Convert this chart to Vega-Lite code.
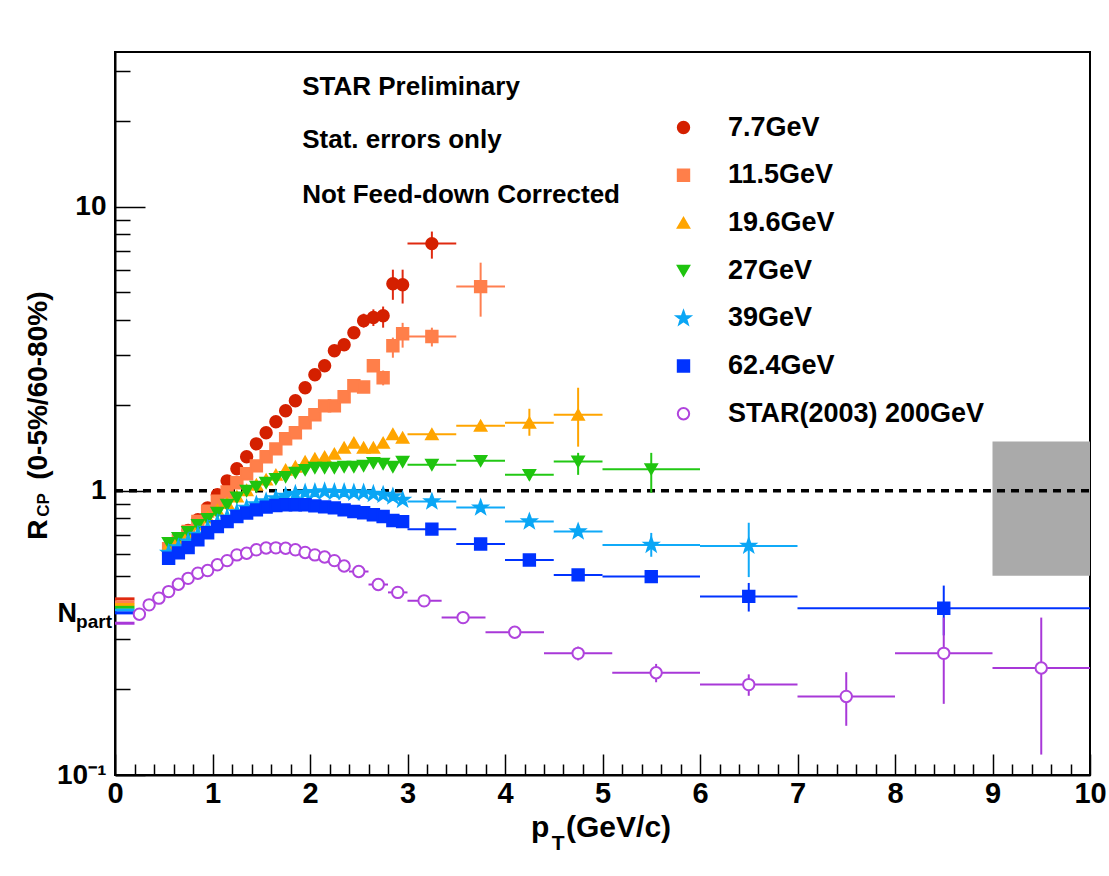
{
  "$schema": "https://vega.github.io/schema/vega-lite/v6.json",
  "width": 975,
  "height": 723,
  "autosize": {"type": "none"},
  "padding": {"left": 115, "top": 52, "right": 19, "bottom": 101},
  "background": "white",
  "data": {"values": [{}]},
  "config": {
    "view": {"stroke": "black", "strokeWidth": 2},
    "font": "Liberation Sans",
    "axis": {"labelFont": "Liberation Sans", "labelFontWeight": "bold", "labelColor": "black", "tickColor": "black", "tickWidth": 1.5, "domainColor": "black", "domainWidth": 2, "grid": false, "labelFlush": false, "labelOverlap": false}
  },
  "datasets": {
    "pts": [
      {"s":"7.7GeV","pt":0.55,"v":0.615},{"s":"7.7GeV","pt":0.65,"v":0.665},{"s":"7.7GeV","pt":0.75,"v":0.725},{"s":"7.7GeV","pt":0.85,"v":0.791},{"s":"7.7GeV","pt":0.95,"v":0.871},{"s":"7.7GeV","pt":1.05,"v":0.968},{"s":"7.7GeV","pt":1.15,"v":1.084},{"s":"7.7GeV","pt":1.25,"v":1.195},{"s":"7.7GeV","pt":1.35,"v":1.318},{"s":"7.7GeV","pt":1.45,"v":1.463},{"s":"7.7GeV","pt":1.55,"v":1.6},{"s":"7.7GeV","pt":1.65,"v":1.75},{"s":"7.7GeV","pt":1.75,"v":1.913},{"s":"7.7GeV","pt":1.85,"v":2.075},{"s":"7.7GeV","pt":1.95,"v":2.306},{"s":"7.7GeV","pt":2.05,"v":2.561},{"s":"7.7GeV","pt":2.15,"v":2.754},{"s":"7.7GeV","pt":2.25,"v":3.111},{"s":"7.7GeV","pt":2.35,"v":3.266},
      {"s":"7.7GeV","pt":2.45,"v":3.6,"ylo":3.45,"yhi":3.75},
      {"s":"7.7GeV","pt":2.55,"v":3.97,"ylo":3.75,"yhi":4.2},
      {"s":"7.7GeV","pt":2.65,"v":4.07,"ylo":3.8,"yhi":4.35},
      {"s":"7.7GeV","pt":2.75,"v":4.13,"ylo":3.75,"yhi":4.45},
      {"s":"7.7GeV","pt":2.85,"v":5.35,"ylo":4.7,"yhi":6.0},
      {"s":"7.7GeV","pt":2.95,"v":5.31,"ylo":4.56,"yhi":6.0},
      {"s":"7.7GeV","pt":3.25,"v":7.41,"xlo":3.0,"xhi":3.5,"ylo":6.56,"yhi":8.17},

      {"s":"11.5GeV","pt":0.55,"v":0.625},{"s":"11.5GeV","pt":0.65,"v":0.668},{"s":"11.5GeV","pt":0.75,"v":0.72},{"s":"11.5GeV","pt":0.85,"v":0.78},{"s":"11.5GeV","pt":0.95,"v":0.848},{"s":"11.5GeV","pt":1.05,"v":0.92},{"s":"11.5GeV","pt":1.15,"v":0.99},{"s":"11.5GeV","pt":1.25,"v":1.067},{"s":"11.5GeV","pt":1.35,"v":1.148},{"s":"11.5GeV","pt":1.45,"v":1.224},{"s":"11.5GeV","pt":1.55,"v":1.317},{"s":"11.5GeV","pt":1.65,"v":1.405},{"s":"11.5GeV","pt":1.75,"v":1.524},{"s":"11.5GeV","pt":1.85,"v":1.6},{"s":"11.5GeV","pt":1.95,"v":1.735},{"s":"11.5GeV","pt":2.05,"v":1.852},{"s":"11.5GeV","pt":2.15,"v":1.99},{"s":"11.5GeV","pt":2.25,"v":1.99},{"s":"11.5GeV","pt":2.35,"v":2.143},{"s":"11.5GeV","pt":2.45,"v":2.342},{"s":"11.5GeV","pt":2.55,"v":2.32},
      {"s":"11.5GeV","pt":2.65,"v":2.754,"ylo":2.63,"yhi":2.88},
      {"s":"11.5GeV","pt":2.75,"v":2.499,"ylo":2.35,"yhi":2.65},
      {"s":"11.5GeV","pt":2.85,"v":3.24,"ylo":2.94,"yhi":3.46},
      {"s":"11.5GeV","pt":2.95,"v":3.57,"ylo":3.19,"yhi":3.9},
      {"s":"11.5GeV","pt":3.25,"v":3.49,"xlo":3.0,"xhi":3.5,"ylo":3.22,"yhi":3.75},
      {"s":"11.5GeV","pt":3.75,"v":5.23,"xlo":3.5,"xhi":4.0,"ylo":4.1,"yhi":6.35},

      {"s":"19.6GeV","pt":0.55,"v":0.64},{"s":"19.6GeV","pt":0.65,"v":0.672},{"s":"19.6GeV","pt":0.75,"v":0.712},{"s":"19.6GeV","pt":0.85,"v":0.76},{"s":"19.6GeV","pt":0.95,"v":0.805},{"s":"19.6GeV","pt":1.05,"v":0.855},{"s":"19.6GeV","pt":1.15,"v":0.905},{"s":"19.6GeV","pt":1.25,"v":0.955},{"s":"19.6GeV","pt":1.35,"v":1.005},{"s":"19.6GeV","pt":1.45,"v":1.05},{"s":"19.6GeV","pt":1.55,"v":1.095},{"s":"19.6GeV","pt":1.65,"v":1.138},{"s":"19.6GeV","pt":1.75,"v":1.185},{"s":"19.6GeV","pt":1.85,"v":1.215},{"s":"19.6GeV","pt":1.95,"v":1.265},{"s":"19.6GeV","pt":2.05,"v":1.296},{"s":"19.6GeV","pt":2.15,"v":1.317},{"s":"19.6GeV","pt":2.25,"v":1.349},{"s":"19.6GeV","pt":2.35,"v":1.417},{"s":"19.6GeV","pt":2.45,"v":1.475},{"s":"19.6GeV","pt":2.55,"v":1.417},{"s":"19.6GeV","pt":2.65,"v":1.417},{"s":"19.6GeV","pt":2.75,"v":1.475},{"s":"19.6GeV","pt":2.85,"v":1.581},{"s":"19.6GeV","pt":2.95,"v":1.537},
      {"s":"19.6GeV","pt":3.25,"v":1.581,"xlo":3.0,"xhi":3.5,"ylo":1.54,"yhi":1.62},
      {"s":"19.6GeV","pt":3.75,"v":1.694,"xlo":3.5,"xhi":4.0,"ylo":1.64,"yhi":1.75},
      {"s":"19.6GeV","pt":4.25,"v":1.735,"xlo":4.0,"xhi":4.5,"ylo":1.562,"yhi":1.944},
      {"s":"19.6GeV","pt":4.75,"v":1.852,"xlo":4.5,"xhi":5.0,"ylo":1.43,"yhi":2.305},

      {"s":"27GeV","pt":0.55,"v":0.656},{"s":"27GeV","pt":0.65,"v":0.683},{"s":"27GeV","pt":0.75,"v":0.717},{"s":"27GeV","pt":0.85,"v":0.759},{"s":"27GeV","pt":0.95,"v":0.797},{"s":"27GeV","pt":1.05,"v":0.837},{"s":"27GeV","pt":1.15,"v":0.893},{"s":"27GeV","pt":1.25,"v":0.947},{"s":"27GeV","pt":1.35,"v":1.0},{"s":"27GeV","pt":1.45,"v":1.035},{"s":"27GeV","pt":1.55,"v":1.067},{"s":"27GeV","pt":1.65,"v":1.102},{"s":"27GeV","pt":1.75,"v":1.12},{"s":"27GeV","pt":1.85,"v":1.159},{"s":"27GeV","pt":1.95,"v":1.185},{"s":"27GeV","pt":2.05,"v":1.205},{"s":"27GeV","pt":2.15,"v":1.205},{"s":"27GeV","pt":2.25,"v":1.205},{"s":"27GeV","pt":2.35,"v":1.215},{"s":"27GeV","pt":2.45,"v":1.215},{"s":"27GeV","pt":2.55,"v":1.225},{"s":"27GeV","pt":2.65,"v":1.254},{"s":"27GeV","pt":2.75,"v":1.245},{"s":"27GeV","pt":2.85,"v":1.215},{"s":"27GeV","pt":2.95,"v":1.265},
      {"s":"27GeV","pt":3.25,"v":1.235,"xlo":3.0,"xhi":3.5,"ylo":1.205,"yhi":1.265},
      {"s":"27GeV","pt":3.75,"v":1.275,"xlo":3.5,"xhi":4.0,"ylo":1.235,"yhi":1.315},
      {"s":"27GeV","pt":4.25,"v":1.138,"xlo":4.0,"xhi":4.5,"ylo":1.09,"yhi":1.19},
      {"s":"27GeV","pt":4.75,"v":1.268,"xlo":4.5,"xhi":5.0,"ylo":1.138,"yhi":1.36},
      {"s":"27GeV","pt":5.5,"v":1.192,"xlo":5.0,"xhi":6.0,"ylo":0.984,"yhi":1.36},

      {"s":"39GeV","pt":0.55,"v":0.605},{"s":"39GeV","pt":0.65,"v":0.632},{"s":"39GeV","pt":0.75,"v":0.662},{"s":"39GeV","pt":0.85,"v":0.7},{"s":"39GeV","pt":0.95,"v":0.735},{"s":"39GeV","pt":1.05,"v":0.77},{"s":"39GeV","pt":1.15,"v":0.805},{"s":"39GeV","pt":1.25,"v":0.84},{"s":"39GeV","pt":1.35,"v":0.87},{"s":"39GeV","pt":1.45,"v":0.895},{"s":"39GeV","pt":1.55,"v":0.918},{"s":"39GeV","pt":1.65,"v":0.94},{"s":"39GeV","pt":1.75,"v":0.96},{"s":"39GeV","pt":1.85,"v":0.975},{"s":"39GeV","pt":1.95,"v":0.985},{"s":"39GeV","pt":2.05,"v":0.99},{"s":"39GeV","pt":2.15,"v":0.995},{"s":"39GeV","pt":2.25,"v":0.99},{"s":"39GeV","pt":2.35,"v":0.99},{"s":"39GeV","pt":2.45,"v":0.985},{"s":"39GeV","pt":2.55,"v":0.985},{"s":"39GeV","pt":2.65,"v":0.975},{"s":"39GeV","pt":2.75,"v":0.968},{"s":"39GeV","pt":2.85,"v":0.955},{"s":"39GeV","pt":2.95,"v":0.929},
      {"s":"39GeV","pt":3.25,"v":0.917,"xlo":3.0,"xhi":3.5},
      {"s":"39GeV","pt":3.75,"v":0.873,"xlo":3.5,"xhi":4.0},
      {"s":"39GeV","pt":4.25,"v":0.78,"xlo":4.0,"xhi":4.5,"ylo":0.765,"yhi":0.795},
      {"s":"39GeV","pt":4.75,"v":0.719,"xlo":4.5,"xhi":5.0,"ylo":0.7,"yhi":0.738},
      {"s":"39GeV","pt":5.5,"v":0.645,"xlo":5.0,"xhi":6.0,"ylo":0.586,"yhi":0.711},
      {"s":"39GeV","pt":6.5,"v":0.64,"xlo":6.0,"xhi":7.0,"ylo":0.497,"yhi":0.772},

      {"s":"62.4GeV","pt":0.55,"v":0.579},{"s":"62.4GeV","pt":0.65,"v":0.605},{"s":"62.4GeV","pt":0.75,"v":0.631},{"s":"62.4GeV","pt":0.85,"v":0.672},{"s":"62.4GeV","pt":0.95,"v":0.712},{"s":"62.4GeV","pt":1.05,"v":0.748},{"s":"62.4GeV","pt":1.15,"v":0.779},{"s":"62.4GeV","pt":1.25,"v":0.812},{"s":"62.4GeV","pt":1.35,"v":0.835},{"s":"62.4GeV","pt":1.45,"v":0.857},{"s":"62.4GeV","pt":1.55,"v":0.876},{"s":"62.4GeV","pt":1.65,"v":0.888},{"s":"62.4GeV","pt":1.75,"v":0.893},{"s":"62.4GeV","pt":1.85,"v":0.893},{"s":"62.4GeV","pt":1.95,"v":0.893},{"s":"62.4GeV","pt":2.05,"v":0.885},{"s":"62.4GeV","pt":2.15,"v":0.878},{"s":"62.4GeV","pt":2.25,"v":0.871},{"s":"62.4GeV","pt":2.35,"v":0.857},{"s":"62.4GeV","pt":2.45,"v":0.846},{"s":"62.4GeV","pt":2.55,"v":0.837},{"s":"62.4GeV","pt":2.65,"v":0.824},{"s":"62.4GeV","pt":2.75,"v":0.812},{"s":"62.4GeV","pt":2.85,"v":0.786},{"s":"62.4GeV","pt":2.95,"v":0.779},
      {"s":"62.4GeV","pt":3.25,"v":0.733,"xlo":3.0,"xhi":3.5},
      {"s":"62.4GeV","pt":3.75,"v":0.65,"xlo":3.5,"xhi":4.0},
      {"s":"62.4GeV","pt":4.25,"v":0.571,"xlo":4.0,"xhi":4.5},
      {"s":"62.4GeV","pt":4.75,"v":0.506,"xlo":4.5,"xhi":5.0},
      {"s":"62.4GeV","pt":5.5,"v":0.499,"xlo":5.0,"xhi":6.0,"ylo":0.49,"yhi":0.508},
      {"s":"62.4GeV","pt":6.5,"v":0.425,"xlo":6.0,"xhi":7.0,"ylo":0.376,"yhi":0.474},
      {"s":"62.4GeV","pt":8.5,"v":0.386,"xlo":7.0,"xhi":10.0,"ylo":0.31,"yhi":0.464},

      {"s":"STAR(2003) 200GeV","pt":0.25,"v":0.368},{"s":"STAR(2003) 200GeV","pt":0.35,"v":0.397},{"s":"STAR(2003) 200GeV","pt":0.45,"v":0.419},{"s":"STAR(2003) 200GeV","pt":0.55,"v":0.442},{"s":"STAR(2003) 200GeV","pt":0.65,"v":0.469},{"s":"STAR(2003) 200GeV","pt":0.75,"v":0.492},{"s":"STAR(2003) 200GeV","pt":0.85,"v":0.513},{"s":"STAR(2003) 200GeV","pt":0.95,"v":0.524},{"s":"STAR(2003) 200GeV","pt":1.05,"v":0.549},{"s":"STAR(2003) 200GeV","pt":1.15,"v":0.568},{"s":"STAR(2003) 200GeV","pt":1.25,"v":0.595},{"s":"STAR(2003) 200GeV","pt":1.35,"v":0.603},{"s":"STAR(2003) 200GeV","pt":1.45,"v":0.62},{"s":"STAR(2003) 200GeV","pt":1.55,"v":0.629},{"s":"STAR(2003) 200GeV","pt":1.65,"v":0.63},{"s":"STAR(2003) 200GeV","pt":1.75,"v":0.628},{"s":"STAR(2003) 200GeV","pt":1.85,"v":0.62},{"s":"STAR(2003) 200GeV","pt":1.95,"v":0.607},{"s":"STAR(2003) 200GeV","pt":2.05,"v":0.595},{"s":"STAR(2003) 200GeV","pt":2.15,"v":0.585},{"s":"STAR(2003) 200GeV","pt":2.25,"v":0.568},{"s":"STAR(2003) 200GeV","pt":2.35,"v":0.544},
      {"s":"STAR(2003) 200GeV","pt":2.5,"v":0.52,"xlo":2.4,"xhi":2.6},
      {"s":"STAR(2003) 200GeV","pt":2.7,"v":0.468,"xlo":2.6,"xhi":2.8},
      {"s":"STAR(2003) 200GeV","pt":2.9,"v":0.439,"xlo":2.8,"xhi":3.0},
      {"s":"STAR(2003) 200GeV","pt":3.17,"v":0.41,"xlo":3.0,"xhi":3.35,"ylo":0.402,"yhi":0.418},
      {"s":"STAR(2003) 200GeV","pt":3.57,"v":0.358,"xlo":3.35,"xhi":3.8,"ylo":0.348,"yhi":0.368},
      {"s":"STAR(2003) 200GeV","pt":4.1,"v":0.318,"xlo":3.8,"xhi":4.4,"ylo":0.306,"yhi":0.33},
      {"s":"STAR(2003) 200GeV","pt":4.75,"v":0.268,"xlo":4.4,"xhi":5.1,"ylo":0.253,"yhi":0.283},
      {"s":"STAR(2003) 200GeV","pt":5.55,"v":0.229,"xlo":5.1,"xhi":6.0,"ylo":0.212,"yhi":0.246},
      {"s":"STAR(2003) 200GeV","pt":6.5,"v":0.208,"xlo":6.0,"xhi":7.0,"ylo":0.19,"yhi":0.226},
      {"s":"STAR(2003) 200GeV","pt":7.5,"v":0.189,"xlo":7.0,"xhi":8.0,"ylo":0.149,"yhi":0.23},
      {"s":"STAR(2003) 200GeV","pt":8.5,"v":0.268,"xlo":8.0,"xhi":9.0,"ylo":0.178,"yhi":0.358},
      {"s":"STAR(2003) 200GeV","pt":9.5,"v":0.238,"xlo":9.0,"xhi":10.0,"ylo":0.118,"yhi":0.358}
    ],
    "npart": [
      {"s":"7.7GeV","v":0.4167},{"s":"11.5GeV","v":0.4071},{"s":"19.6GeV","v":0.398},{"s":"27GeV","v":0.389},{"s":"39GeV","v":0.3804},{"s":"62.4GeV","v":0.3719},{"s":"STAR(2003) 200GeV","v":0.342}
    ],
    "box": [{"xlo": 9, "xhi": 10, "ylo": 0.502, "yhi": 1.49}]
  },
  "layer": [
    {
      "data": {"name": "box"},
      "mark": {"type": "rect", "color": "#aaaaaa"},
      "encoding": {
        "x": {"field": "xlo", "type": "quantitative", "scale": {"domain": [0, 10], "nice": false, "zero": false},
              "axis": {"orient": "bottom", "values": [0,1,2,3,4,5,6,7,8,9,10], "format": "d", "title": null, "tickSize": -21, "labelFontSize": 29, "labelPadding": 25}},
        "x2": {"field": "xhi"},
        "y": {"field": "ylo", "type": "quantitative", "scale": {"type": "log", "domain": [0.1, 35], "nice": false},
              "axis": {"orient": "left", "values": [0.1, 1, 10], "labelExpr": "datum.value < 0.5 ? '10⁻¹' : datum.value < 5 ? '1' : '10'", "title": null, "tickSize": -30, "labelFontSize": 28, "labelPadding": 39}},
        "y2": {"field": "yhi"}
      }
    },
    {
      "mark": {"type": "rule", "color": "black", "strokeWidth": 3.5, "strokeDash": [8, 6]},
      "encoding": {
        "x": {"datum": 0, "type": "quantitative", "scale": {"domain": [0, 10], "nice": false, "zero": false},
              "axis": {"orient": "bottom", "values": [0.2,0.4,0.6,0.8,1.2,1.4,1.6,1.8,2.2,2.4,2.6,2.8,3.2,3.4,3.6,3.8,4.2,4.4,4.6,4.8,5.2,5.4,5.6,5.8,6.2,6.4,6.6,6.8,7.2,7.4,7.6,7.8,8.2,8.4,8.6,8.8,9.2,9.4,9.6,9.8], "labels": false, "domain": false, "title": null, "tickSize": -11}},
        "x2": {"datum": 10},
        "y": {"datum": 1, "type": "quantitative", "scale": {"type": "log", "domain": [0.1, 35], "nice": false},
              "axis": {"orient": "left", "values": [0.2,0.3,0.4,0.5,0.6,0.7,0.8,0.9,2,3,4,5,6,7,8,9,20,30], "labels": false, "domain": false, "title": null, "tickSize": -15}}
      }
    },
    {
      "data": {"name": "npart"},
      "mark": {"type": "rule", "strokeWidth": 3},
      "encoding": {
        "x": {"datum": 0, "type": "quantitative", "scale": {"domain": [0, 10], "nice": false, "zero": false}, "axis": null},
        "x2": {"datum": 0.2},
        "y": {"field": "v", "type": "quantitative", "scale": {"type": "log", "domain": [0.1, 35], "nice": false}, "axis": null},
        "color": {"field": "s", "type": "nominal", "legend": null,
                  "scale": {"domain": ["STAR(2003) 200GeV","62.4GeV","39GeV","27GeV","19.6GeV","11.5GeV","7.7GeV"], "range": ["#a838d8","#0033ff","#10aaf8","#22c814","#ffa500","#ff7f50","#e02a10"]}}
      }
    },
    {
      "data": {"name": "pts"},
      "transform": [{"filter": "isValid(datum.ylo)"}],
      "mark": {"type": "rule", "strokeWidth": 2},
      "encoding": {
        "x": {"field": "pt", "type": "quantitative", "scale": {"domain": [0, 10], "nice": false, "zero": false}, "axis": null},
        "y": {"field": "ylo", "type": "quantitative", "scale": {"type": "log", "domain": [0.1, 35], "nice": false}, "axis": null},
        "y2": {"field": "yhi"},
        "color": {"field": "s", "type": "nominal", "legend": null,
                  "scale": {"domain": ["STAR(2003) 200GeV","62.4GeV","39GeV","27GeV","19.6GeV","11.5GeV","7.7GeV"], "range": ["#a838d8","#0033ff","#10aaf8","#22c814","#ffa500","#ff7f50","#e02a10"]}}
      }
    },
    {
      "data": {"name": "pts"},
      "transform": [{"filter": "isValid(datum.xlo)"}],
      "mark": {"type": "rule", "strokeWidth": 2},
      "encoding": {
        "x": {"field": "xlo", "type": "quantitative", "scale": {"domain": [0, 10], "nice": false, "zero": false}, "axis": null},
        "x2": {"field": "xhi"},
        "y": {"field": "v", "type": "quantitative", "scale": {"type": "log", "domain": [0.1, 35], "nice": false}, "axis": null},
        "color": {"field": "s", "type": "nominal", "legend": null,
                  "scale": {"domain": ["STAR(2003) 200GeV","62.4GeV","39GeV","27GeV","19.6GeV","11.5GeV","7.7GeV"], "range": ["#a838d8","#0033ff","#10aaf8","#22c814","#ffa500","#ff7f50","#e02a10"]}}
      }
    },
    {
      "data": {"name": "pts"},
      "mark": {"type": "point", "size": 130, "strokeWidth": 2, "opacity": 1},
      "encoding": {
        "x": {"field": "pt", "type": "quantitative", "scale": {"domain": [0, 10], "nice": false, "zero": false}, "axis": null},
        "y": {"field": "v", "type": "quantitative", "scale": {"type": "log", "domain": [0.1, 35], "nice": false}, "axis": null},
        "shape": {"field": "s", "type": "nominal", "title": null,
                  "scale": {"domain": ["7.7GeV","11.5GeV","19.6GeV","27GeV","39GeV","62.4GeV","STAR(2003) 200GeV"], "range": ["circle","square","triangle-up","triangle-down","M0,-1.25L0.3,-0.41L1.19,-0.39L0.48,0.15L0.74,1.01L0,0.5L-0.74,1.01L-0.48,0.15L-1.19,-0.39L-0.3,-0.41Z","square","circle"]},
                  "legend": {"orient": "none", "legendX": 555, "legendY": 62, "padding": 0, "labelFont": "Liberation Sans", "labelFontWeight": "bold", "labelFontSize": 27, "labelColor": "black", "labelLimit": 500, "symbolSize": 130, "symbolStrokeWidth": 2, "labelOffset": 31, "rowPadding": 19.7}},
        "fill": {"field": "s", "type": "nominal", "title": null,
                 "scale": {"domain": ["7.7GeV","11.5GeV","19.6GeV","27GeV","39GeV","62.4GeV","STAR(2003) 200GeV"], "range": ["#d42000","#ff7f4a","#ffa500","#1fc40f","#0aa6f5","#0033ff","white"]},
                 "legend": {"orient": "none", "legendX": 555, "legendY": 62, "padding": 0, "labelFont": "Liberation Sans", "labelFontWeight": "bold", "labelFontSize": 27, "labelColor": "black", "labelLimit": 500, "symbolSize": 130, "symbolStrokeWidth": 2, "labelOffset": 31, "rowPadding": 19.7}},
        "stroke": {"field": "s", "type": "nominal", "title": null,
                   "scale": {"domain": ["7.7GeV","11.5GeV","19.6GeV","27GeV","39GeV","62.4GeV","STAR(2003) 200GeV"], "range": ["#d42000","#ff7f4a","#ffa500","#1fc40f","#0aa6f5","#0033ff","#b044dd"]},
                   "legend": {"orient": "none", "legendX": 555, "legendY": 62, "padding": 0, "labelFont": "Liberation Sans", "labelFontWeight": "bold", "labelFontSize": 27, "labelColor": "black", "labelLimit": 500, "symbolSize": 130, "symbolStrokeWidth": 2, "labelOffset": 31, "rowPadding": 19.7}}
      }
    },
    {
      "mark": {"type": "text", "align": "left", "baseline": "alphabetic", "fontSize": 26, "fontWeight": "bold", "font": "Liberation Sans", "color": "black", "text": "STAR Preliminary"},
      "encoding": {
        "x": {"datum": 1.92, "type": "quantitative", "scale": {"domain": [0, 10], "nice": false, "zero": false}, "axis": null},
        "y": {"datum": 24.8, "type": "quantitative", "scale": {"type": "log", "domain": [0.1, 35], "nice": false}, "axis": null}
      }
    },
    {
      "mark": {"type": "text", "align": "left", "baseline": "alphabetic", "fontSize": 26, "fontWeight": "bold", "font": "Liberation Sans", "color": "black", "text": "Stat. errors only"},
      "encoding": {
        "x": {"datum": 1.92, "type": "quantitative", "scale": {"domain": [0, 10], "nice": false, "zero": false}, "axis": null},
        "y": {"datum": 16.1, "type": "quantitative", "scale": {"type": "log", "domain": [0.1, 35], "nice": false}, "axis": null}
      }
    },
    {
      "mark": {"type": "text", "align": "left", "baseline": "alphabetic", "fontSize": 26, "fontWeight": "bold", "font": "Liberation Sans", "color": "black", "text": "Not Feed-down Corrected"},
      "encoding": {
        "x": {"datum": 1.92, "type": "quantitative", "scale": {"domain": [0, 10], "nice": false, "zero": false}, "axis": null},
        "y": {"datum": 10.33, "type": "quantitative", "scale": {"type": "log", "domain": [0.1, 35], "nice": false}, "axis": null}
      }
    },
    {
      "mark": {"type": "text", "align": "left", "baseline": "alphabetic", "fontSize": 30, "fontWeight": "bold", "font": "Liberation Sans", "color": "black", "text": "p"},
      "encoding": {
        "x": {"datum": 4.267, "type": "quantitative", "scale": {"domain": [0, 10], "nice": false, "zero": false}, "axis": null},
        "y": {"datum": 0.0605, "type": "quantitative", "scale": {"type": "log", "domain": [0.1, 35], "nice": false}, "axis": null}
      }
    },
    {
      "mark": {"type": "text", "align": "left", "baseline": "alphabetic", "fontSize": 21, "fontWeight": "bold", "font": "Liberation Sans", "color": "black", "text": "T"},
      "encoding": {
        "x": {"datum": 4.48, "type": "quantitative", "scale": {"domain": [0, 10], "nice": false, "zero": false}, "axis": null},
        "y": {"datum": 0.0545, "type": "quantitative", "scale": {"type": "log", "domain": [0.1, 35], "nice": false}, "axis": null}
      }
    },
    {
      "mark": {"type": "text", "align": "left", "baseline": "alphabetic", "fontSize": 30, "fontWeight": "bold", "font": "Liberation Sans", "color": "black", "text": "(GeV/c)"},
      "encoding": {
        "x": {"datum": 4.626, "type": "quantitative", "scale": {"domain": [0, 10], "nice": false, "zero": false}, "axis": null},
        "y": {"datum": 0.0605, "type": "quantitative", "scale": {"type": "log", "domain": [0.1, 35], "nice": false}, "axis": null}
      }
    },
    {
      "mark": {"type": "text", "align": "left", "baseline": "alphabetic", "angle": 270, "fontSize": 28, "fontWeight": "bold", "font": "Liberation Sans", "color": "black", "text": "R"},
      "encoding": {
        "x": {"datum": -0.697, "type": "quantitative", "scale": {"domain": [0, 10], "nice": false, "zero": false}, "axis": null},
        "y": {"datum": 0.672, "type": "quantitative", "scale": {"type": "log", "domain": [0.1, 35], "nice": false}, "axis": null}
      }
    },
    {
      "mark": {"type": "text", "align": "left", "baseline": "alphabetic", "angle": 270, "fontSize": 17, "fontWeight": "bold", "font": "Liberation Sans", "color": "black", "text": "CP"},
      "encoding": {
        "x": {"datum": -0.677, "type": "quantitative", "scale": {"domain": [0, 10], "nice": false, "zero": false}, "axis": null},
        "y": {"datum": 0.81, "type": "quantitative", "scale": {"type": "log", "domain": [0.1, 35], "nice": false}, "axis": null}
      }
    },
    {
      "mark": {"type": "text", "align": "left", "baseline": "alphabetic", "angle": 270, "fontSize": 28, "fontWeight": "bold", "font": "Liberation Sans", "color": "black", "text": "(0-5%/60-80%)"},
      "encoding": {
        "x": {"datum": -0.697, "type": "quantitative", "scale": {"domain": [0, 10], "nice": false, "zero": false}, "axis": null},
        "y": {"datum": 1.093, "type": "quantitative", "scale": {"type": "log", "domain": [0.1, 35], "nice": false}, "axis": null}
      }
    },
    {
      "mark": {"type": "text", "align": "right", "baseline": "alphabetic", "fontSize": 27, "fontWeight": "bold", "font": "Liberation Sans", "color": "black", "text": "N"},
      "encoding": {
        "x": {"datum": -0.39, "type": "quantitative", "scale": {"domain": [0, 10], "nice": false, "zero": false}, "axis": null},
        "y": {"datum": 0.3457, "type": "quantitative", "scale": {"type": "log", "domain": [0.1, 35], "nice": false}, "axis": null}
      }
    },
    {
      "mark": {"type": "text", "align": "right", "baseline": "alphabetic", "fontSize": 19, "fontWeight": "bold", "font": "Liberation Sans", "color": "black", "text": "part"},
      "encoding": {
        "x": {"datum": -0.031, "type": "quantitative", "scale": {"domain": [0, 10], "nice": false, "zero": false}, "axis": null},
        "y": {"datum": 0.3293, "type": "quantitative", "scale": {"type": "log", "domain": [0.1, 35], "nice": false}, "axis": null}
      }
    }
  ],
  "resolve": {"axis": {"x": "independent", "y": "independent"}}
}
